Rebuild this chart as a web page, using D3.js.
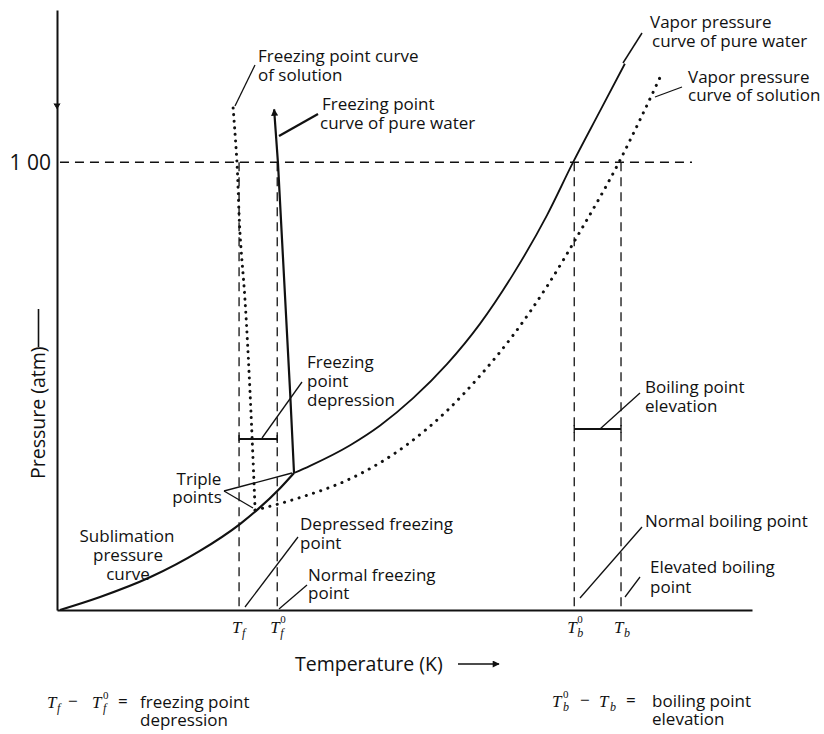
<!DOCTYPE html>
<html>
<head>
<meta charset="utf-8">
<script src="https://cdn.jsdelivr.net/npm/d3@7/dist/d3.min.js"></script>
<style>
  html, body { margin: 0; padding: 0; background: #fff; }
  svg { display: block; }
  text { font-family: "Open Sans", "Noto Sans", sans-serif; fill: #111; }
</style>
</head>
<body>
<svg id="chart" width="824" height="734"></svg>
<script>
// ---------------- DATA (schematic: temperature in K, pressure in atm) ----------------
const refTemps = { Tf: 260.3, Tf0: 273.15, Tb0: 373.15, Tb: 388.9 };
const pressureTicks = [1.0];
const pressureTickLabels = ["1 00"];

// Sublimation pressure curve of ice (pure water), up to the triple point
const sublimationCurve = [
  [200.0, 0.000], [213.5, 0.029], [230.3, 0.073], [247.1, 0.132],
  [260.6, 0.192], [266.3, 0.223], [274.1, 0.272], [278.8, 0.306]
];
// Vapor pressure curve of pure water, from the triple point
const vaporPure = [
  [278.8, 0.306], [284.2, 0.322], [297.7, 0.368], [307.8, 0.412],
  [318.9, 0.473], [330.3, 0.549], [341.4, 0.639], [352.5, 0.749],
  [364.0, 0.882], [372.7, 0.999], [381.8, 1.114], [390.2, 1.220]
];
// Vapor pressure curve of the solution
const vaporSolution = [
  [265.7, 0.223], [280.8, 0.251], [297.7, 0.293], [316.8, 0.369],
  [330.3, 0.445], [341.4, 0.523], [352.5, 0.613], [364.0, 0.723],
  [375.1, 0.845], [388.6, 1.005], [395.3, 1.095], [402.0, 1.189]
];
// Freezing point curve of pure water
const freezingPure = [
  [278.8, 0.306], [277.5, 0.485], [273.4, 0.998], [272.1, 1.118]
];
// Freezing point curve of the solution
const freezingSolution = [
  [265.7, 0.223], [264.0, 0.485], [262.3, 0.692], [260.6, 0.842],
  [259.6, 0.998], [258.3, 1.121]
];
const oneAtmLineEnd = 412.8;
const fpdBarPressure = 0.382;
const bpeBarPressure = 0.404;

// ---------------- LAYOUT ----------------
const svg = d3.select("#chart");
const xScale = d3.scaleLinear().domain([199, 433]).range([57, 752]);
const yScale = d3.scaleLinear().domain([0, 1.34]).range([610, 10]);
const ink = "#111";
const serif = "'Liberation Serif', 'DejaVu Serif', serif";

const smooth = d3.line().x(d => xScale(d[0])).y(d => yScale(d[1])).curve(d3.curveMonotoneX);
const smoothY = d3.line().x(d => xScale(d[0])).y(d => yScale(d[1])).curve(d3.curveCatmullRom);

svg.append("defs").append("marker")
  .attr("id", "arrow").attr("viewBox", "0 0 10 10").attr("refX", 9).attr("refY", 5)
  .attr("markerWidth", 14).attr("markerHeight", 7).attr("orient", "auto-start-reverse")
  .attr("markerUnits", "userSpaceOnUse")
  .append("path").attr("d", "M0,0 L10,5 L0,10 Z").attr("fill", ink);

// Axes
const yAxis = d3.axisLeft(yScale).tickValues(pressureTicks)
  .tickFormat((d, i) => pressureTickLabels[i]).tickSize(0).tickSizeOuter(0).tickPadding(6);
const gy = svg.append("g").attr("transform", `translate(${xScale(199)},0)`).call(yAxis);
gy.select(".domain").attr("stroke", ink).attr("stroke-width", 2);
gy.selectAll(".tick text").attr("font-family", serif)
  .attr("font-size", 21).attr("fill", ink).attr("dy", "0.34em");

const xAxis = d3.axisBottom(xScale).tickValues([]).tickSizeOuter(0);
const gx = svg.append("g").attr("transform", `translate(0,${yScale(0)})`).call(xAxis);
gx.select(".domain").attr("stroke", ink).attr("stroke-width", 2);

// small mark on y axis (as in the original print)
svg.append("path").attr("d", `M${xScale(199) - 3},${yScale(1.131)} l3,5 l3,-5`)
  .attr("fill", ink).attr("stroke", ink).attr("stroke-width", 1);

// Dashed reference lines
const dash = "9,6";
svg.append("line")
  .attr("x1", xScale(200)).attr("x2", xScale(oneAtmLineEnd))
  .attr("y1", yScale(1.0)).attr("y2", yScale(1.0))
  .attr("stroke", ink).attr("stroke-width", 1.3).attr("stroke-dasharray", dash);
Object.values(refTemps).forEach(t => {
  svg.append("line")
    .attr("x1", xScale(t)).attr("x2", xScale(t))
    .attr("y1", yScale(1.0)).attr("y2", yScale(0))
    .attr("stroke", ink).attr("stroke-width", 1.3).attr("stroke-dasharray", dash);
});

// Curves
svg.append("path").datum(sublimationCurve)
  .attr("d", smooth).attr("fill", "none").attr("stroke", ink).attr("stroke-width", 2.2);
svg.append("path").datum(vaporPure)
  .attr("d", smooth).attr("fill", "none").attr("stroke", ink).attr("stroke-width", 1.8);
svg.append("path").datum(vaporSolution)
  .attr("d", smooth).attr("fill", "none").attr("stroke", ink).attr("stroke-width", 3)
  .attr("stroke-linecap", "round").attr("stroke-dasharray", "0.1,7.5");
svg.append("path").datum(freezingPure)
  .attr("d", d3.line().x(d => xScale(d[0])).y(d => yScale(d[1])))
  .attr("fill", "none").attr("stroke", ink).attr("stroke-width", 2.2)
  .attr("marker-end", "url(#arrow)");
svg.append("path").datum(freezingSolution)
  .attr("d", smoothY).attr("fill", "none").attr("stroke", ink).attr("stroke-width", 3)
  .attr("stroke-linecap", "round").attr("stroke-dasharray", "0.1,6.5");

// Difference bars
function bar(t1, t2, p) {
  const y = yScale(p);
  svg.append("line").attr("x1", xScale(t1)).attr("x2", xScale(t2)).attr("y1", y).attr("y2", y)
    .attr("stroke", ink).attr("stroke-width", 2);
  [t1, t2].forEach(t => svg.append("line").attr("x1", xScale(t)).attr("x2", xScale(t))
    .attr("y1", y - 4).attr("y2", y + 4).attr("stroke", ink).attr("stroke-width", 1.3));
}
bar(refTemps.Tf, refTemps.Tf0, fpdBarPressure);
bar(refTemps.Tb0, refTemps.Tb, bpeBarPressure);

// Leader lines (pixel layout)
const leaders = [
  [235, 106, 255, 65, 1.3],
  [279, 136, 318, 114, 2.2],
  [623, 63, 642, 33, 1.5],
  [655, 97, 682, 87, 1.3],
  [262, 438, 302, 382, 1.3],
  [224, 491, 292, 473, 1.3],
  [224, 491, 253, 508, 1.3],
  [600, 429, 640, 393, 1.3],
  [580, 598, 642, 527, 1.3],
  [625, 597, 640, 577, 1.3],
  [245, 607, 298, 537, 1.3],
  [279, 609, 307, 585, 1.3]
];
leaders.forEach(l => svg.append("line").attr("x1", l[0]).attr("y1", l[1]).attr("x2", l[2]).attr("y2", l[3])
  .attr("stroke", ink).attr("stroke-width", l[4]));

// Annotation text: each label is one text element, lines as tspans [text, x, baseline]
const fs = 17;
const labelGroups = [
  ["start", [["Freezing point curve", 258, 62], ["of solution", 258, 81]]],
  ["start", [["Freezing point", 322, 110], ["curve of pure water", 320, 129]]],
  ["start", [["Vapor pressure", 650, 28], ["curve of pure water", 652, 47]]],
  ["start", [["Vapor pressure", 688, 83], ["curve of solution", 688, 101]]],
  ["start", [["Freezing", 307, 368], ["point", 307, 387], ["depression", 307, 406]]],
  ["middle", [["Triple", 199, 485], ["points", 197, 503]]],
  ["middle", [["Sublimation", 127, 542], ["pressure", 128, 561], ["curve", 128, 580]]],
  ["start", [["Depressed freezing", 300, 530], ["point", 300, 549]]],
  ["start", [["Normal freezing", 308, 581], ["point", 308, 599]]],
  ["start", [["Boiling point", 645, 393], ["elevation", 645, 412]]],
  ["start", [["Normal boiling point", 645, 527]]],
  ["start", [["Elevated boiling", 650, 573], ["point", 650, 593]]],
  ["start", [["freezing point", 140, 708], ["depression", 140, 726]]],
  ["start", [["boiling point", 652, 707], ["elevation", 652, 725]]]
];
labelGroups.forEach(g => {
  const t = svg.append("text").attr("font-size", fs).attr("text-anchor", g[0]);
  g[1].forEach(l => t.append("tspan").attr("x", l[1]).attr("y", l[2]).text(l[0]));
});

// Axis titles
svg.append("text").attr("x", 295).attr("y", 671).attr("font-size", 19.5).text("Temperature (K)");
svg.append("line").attr("x1", 458).attr("x2", 499).attr("y1", 664).attr("y2", 664)
  .attr("stroke", ink).attr("stroke-width", 1.5).attr("marker-end", "url(#arrow)");
svg.append("text").attr("transform", "translate(45,479) rotate(-90)").attr("font-size", 19.5)
  .text("Pressure (atm)");
svg.append("line").attr("x1", 38.5).attr("x2", 38.5).attr("y1", 347).attr("y2", 309)
  .attr("stroke", ink).attr("stroke-width", 1.6);

// Symbol text built from positioned tspans (one text element per symbol group)
function symText(parts) {
  const t = svg.append("text");
  parts.forEach(p => {
    const s = t.append("tspan").attr("x", p[1]).attr("y", p[2]).attr("font-size", p[3]).text(p[0]);
    if (p[4] === "i") s.attr("font-family", serif).attr("font-style", "italic");
    else if (p[4] === "s") s.attr("font-family", serif);
  });
  return t;
}
// Axis tick symbols, positioned from the scale
const tickSyms = [["Tf", "f", ""], ["Tf0", "f", "0"], ["Tb0", "b", "0"], ["Tb", "b", ""]];
tickSyms.forEach(s => {
  const x = xScale(refTemps[s[0]]) - 7;
  const parts = [["T", x, 633, 17, "i"], [s[1], x + 10, 637, 12, "i"]];
  if (s[2]) parts.push([s[2], x + 10, 623, 11, "s"]);
  symText(parts);
});

// Bottom equations
symText([["T", 47, 708, 17, "i"], ["f", 57, 712, 12, "i"], ["−", 68, 707, 17, ""],
         ["T", 92, 708, 17, "i"], ["0", 103, 699, 11, "s"], ["f", 103, 712, 12, "i"],
         ["=", 118, 707, 17, ""]]);
symText([["T", 552, 707, 17, "i"], ["0", 563, 698, 11, "s"], ["b", 563, 711, 12, "i"],
         ["−", 580, 706, 17, ""], ["T", 599, 707, 17, "i"], ["b", 610, 711, 12, "i"],
         ["=", 626, 706, 17, ""]]);
</script>
</body>
</html>
